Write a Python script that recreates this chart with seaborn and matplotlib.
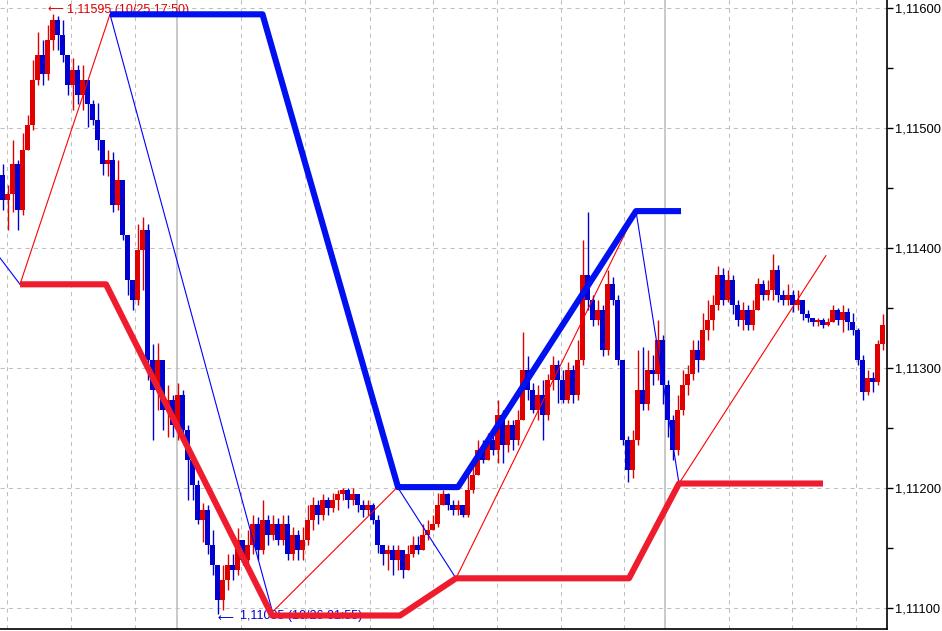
import numpy as np
import pandas as pd
import matplotlib
matplotlib.use("Agg")
import matplotlib.pyplot as plt
import seaborn as sns
from matplotlib.ticker import FixedLocator, NullFormatter

# ---------------- data (prices in points of 1e-5) ----------------
first_open = 111461
close_pts = [
    111440, 111445, 111470, 111432, 111482, 111503, 111540, 111561, 111545, 111574,
    111590, 111578, 111561, 111536, 111549, 111528, 111540, 111520, 111507, 111490,
    111470, 111474, 111436, 111457, 111411, 111374, 111357, 111399, 111415, 111307,
    111282, 111307, 111265, 111274, 111253, 111278, 111249, 111224, 111203, 111174,
    111182, 111153, 111136, 111107, 111124, 111136, 111132, 111157, 111140, 111153,
    111170, 111149, 111174, 111161, 111170, 111157, 111170, 111145, 111161, 111149,
    111157, 111174, 111186, 111178, 111190, 111184, 111190, 111195, 111199, 111190,
    111195, 111186, 111182, 111186, 111174, 111153, 111145, 111149, 111140, 111149,
    111132, 111145, 111153, 111149, 111161, 111165, 111170, 111186, 111195, 111186,
    111182, 111186, 111178, 111199, 111211, 111232, 111224, 111240, 111232, 111261,
    111236, 111253, 111240, 111257, 111299, 111282, 111265, 111278, 111261, 111290,
    111303, 111290, 111274, 111299, 111278, 111307, 111378, 111357, 111340, 111349,
    111315, 111370, 111357, 111307, 111240, 111215, 111240, 111282, 111270, 111299,
    111295, 111324, 111286, 111257, 111232, 111265, 111286, 111295, 111315, 111307,
    111332, 111340, 111353, 111378, 111357, 111374, 111353, 111340, 111349, 111336,
    111349, 111370, 111361, 111365, 111382, 111361, 111357, 111361, 111353, 111357,
    111345, 111342, 111339, 111340, 111336, 111339, 111349, 111340, 111347, 111339,
    111332, 111307, 111280, 111292, 111289, 111320, 111336,
]
high_pts = [
    111470, 111453, 111490, 111474, 111496, 111511, 111557, 111580, 111574, 111586,
    111595, 111594, 111590, 111561, 111559, 111553, 111553, 111536, 111524, 111521,
    111490, 111482, 111480, 111474, 111440, 111403, 111374, 111420, 111426, 111420,
    111320, 111321, 111307, 111286, 111278, 111288, 111282, 111253, 111228, 111207,
    111188, 111186, 111165, 111136, 111136, 111145, 111145, 111167, 111157, 111165,
    111178, 111176, 111190, 111178, 111178, 111175, 111178, 111178, 111168, 111165,
    111168, 111186, 111193, 111190, 111195, 111193, 111196, 111199, 111200, 111200,
    111200, 111195, 111190, 111190, 111188, 111178, 111153, 111153, 111153, 111153,
    111149, 111153, 111160, 111160, 111170, 111174, 111178, 111196, 111199, 111196,
    111190, 111190, 111186, 111211, 111220, 111240, 111240, 111246, 111246, 111274,
    111265, 111257, 111257, 111265, 111330, 111310, 111288, 111286, 111290, 111295,
    111310, 111307, 111299, 111305, 111303, 111324, 111407, 111430, 111361, 111357,
    111353, 111382, 111376, 111361, 111307, 111244, 111249, 111315, 111318, 111315,
    111311, 111340, 111328, 111290, 111261, 111278, 111299, 111303, 111324, 111324,
    111346, 111357, 111361, 111385, 111384, 111382, 111378, 111357, 111355, 111353,
    111357, 111375, 111374, 111374, 111395, 111386, 111365, 111370, 111365, 111365,
    111353, 111349, 111342, 111342, 111342, 111342, 111353, 111350, 111353, 111350,
    111346, 111334, 111311, 111299, 111297, 111324, 111345,
]
low_pts = [
    111432, 111415, 111430, 111415, 111428, 111482, 111499, 111536, 111536, 111540,
    111565, 111565, 111555, 111528, 111515, 111520, 111515, 111501, 111503, 111482,
    111461, 111460, 111430, 111432, 111407, 111361, 111349, 111353, 111365, 111290,
    111240, 111265, 111249, 111243, 111243, 111240, 111240, 111190, 111190, 111170,
    111155, 111145, 111128, 111095, 111099, 111115, 111124, 111128, 111136, 111136,
    111145, 111140, 111145, 111153, 111157, 111153, 111153, 111140, 111140, 111140,
    111140, 111153, 111165, 111170, 111174, 111178, 111180, 111182, 111190, 111184,
    111186, 111180, 111176, 111178, 111170, 111146, 111136, 111132, 111128, 111132,
    111125, 111136, 111143, 111145, 111153, 111157, 111165, 111168, 111186, 111182,
    111178, 111178, 111176, 111176, 111196, 111215, 111221, 111228, 111228, 111221,
    111221, 111230, 111232, 111236, 111274, 111274, 111263, 111257, 111240, 111257,
    111282, 111271, 111271, 111271, 111271, 111274, 111303, 111349, 111335, 111336,
    111310, 111311, 111353, 111303, 111236, 111205, 111209, 111236, 111265, 111265,
    111286, 111290, 111270, 111243, 111224, 111228, 111261, 111278, 111290, 111297,
    111307, 111324, 111332, 111349, 111353, 111355, 111345, 111335, 111332, 111332,
    111332, 111349, 111357, 111357, 111357, 111355, 111353, 111353, 111347, 111349,
    111340, 111339, 111335, 111335, 111334, 111335, 111339, 111336, 111330, 111332,
    111328, 111303, 111274, 111278, 111280, 111286, 111315,
]

# zigzag swing points (bar index, price)
zigzag_idx = [-0.5, 3.5, 21.5, 54.0, 79.0, 90.7, 126.7, 135.3, 164.7]
zigzag_price = [1.11392, 1.11370, 1.11595, 1.11097, 1.11201, 1.11125, 1.11431, 1.11204, 1.11394]

# thick channel lines
upper_idx = [21.5, 52.0, 79.1, 91.1, 126.7, 135.7]
upper_price = [1.11595, 1.11595, 1.11201, 1.11201, 1.11431, 1.11431]
lower_idx = [3.5, 20.7, 53.9, 79.5, 90.7, 125.3, 135.3, 164.1]
lower_price = [1.11370, 1.11370, 1.11094, 1.11094, 1.11125, 1.11125, 1.11204, 1.11204]

# axis ticks
ytick_vals = [1.111, 1.112, 1.113, 1.114, 1.115, 1.116]
ytick_labels = ["1,11100", "1,11200", "1,11300", "1,11400", "1,11500", "1,11600"]
yminor_vals = [1.1115, 1.1125, 1.1135, 1.1145, 1.1155]
vgrid_idx = [0.9, 13.7, 26.5, 47.7, 60.5, 73.5, 86.1, 98.9, 111.7, 124.3, 145.3, 157.9, 170.7]
vsolid_idx = [34.9, 132.5]

high_label = "1,11595 (10/25 17:50)"
low_label = "1,11095 (10/26 01:55)"

# ---------------- build ----------------
close = np.array(close_pts) / 1e5
opens = np.concatenate([[first_open], close_pts[:-1]]) / 1e5
high = np.maximum.reduce([np.array(high_pts) / 1e5, opens, close])
low = np.minimum.reduce([np.array(low_pts) / 1e5, opens, close])
idx = np.arange(len(close))
df = pd.DataFrame({"idx": idx, "open": opens, "close": close, "high": high, "low": low})
df["up"] = df["close"] > df["open"]

RED_BAR = "#e00000"
BLUE_BAR = "#0000d0"
colors = np.where(df["up"], RED_BAR, BLUE_BAR)

sns.set_style("white")
plt.rcParams["font.family"] = ["Liberation Sans", "DejaVu Sans"]

fig = plt.figure(figsize=(9.42, 6.31), dpi=100)
ax = fig.add_axes([0.0, 2 / 631, 887 / 942, 629 / 631])
ax.set_facecolor("white")

ax.set_xlim(-0.5, 176.9)
ax.set_ylim(1.1108275, 1.1160692)

# grid
for y in ytick_vals:
    ax.axhline(y, color="#c0c0c0", lw=0.75, ls=(0, (4, 4)), zorder=0)
for x in vgrid_idx:
    ax.axvline(x, color="#c0c0c0", lw=0.75, ls=(0, (4, 4)), zorder=0)
for x in vsolid_idx:
    ax.axvline(x, color="#c0c0c0", lw=1.2, zorder=0)

# annotations (drawn beneath the lines)
ax.text(8.9, 1.11599, "\u27f5", color="#e00000", fontsize=8, va="center", ha="left", zorder=1,
        family=["DejaVu Sans"])
ax.text(12.9, 1.11599, high_label, color="#e00000", fontsize=9, va="center", ha="left", zorder=1)
ax.text(43.1, 1.11092, "\u27f5", color="#0000d0", fontsize=8, va="center", ha="left", zorder=1,
        family=["DejaVu Sans"])
ax.text(47.5, 1.11094, low_label, color="#0000d0", fontsize=9, va="center", ha="left", zorder=1)

# candles
ax.vlines(df["idx"], df["low"], df["high"], colors=colors, lw=1.0, zorder=2)
body_h = np.maximum((df["close"] - df["open"]).abs().to_numpy(), 0.000009)
body_b = np.minimum(df["open"], df["close"]).to_numpy()
ax.bar(df["idx"], body_h, bottom=body_b, width=0.86, color=colors, linewidth=0, zorder=3)

# zigzag thin lines
for k in range(len(zigzag_idx) - 1):
    seg = pd.DataFrame({"t": zigzag_idx[k:k + 2], "p": zigzag_price[k:k + 2]})
    c = "#0000ff" if zigzag_price[k + 1] < zigzag_price[k] else "#ff0000"
    sns.lineplot(data=seg, x="t", y="p", color=c, lw=0.8, sort=False, estimator=None, ax=ax, zorder=4)

# thick channel lines
up_df = pd.DataFrame({"t": upper_idx, "p": upper_price})
lo_df = pd.DataFrame({"t": lower_idx, "p": lower_price})
sns.lineplot(data=up_df, x="t", y="p", color="#0010f0", lw=4.4, sort=False, estimator=None, ax=ax,
             zorder=5, solid_capstyle="butt")
sns.lineplot(data=lo_df, x="t", y="p", color="#ee1c2c", lw=4.4, sort=False, estimator=None, ax=ax,
             zorder=5, solid_capstyle="butt")

# axes styling
ax.set_xlabel("")
ax.set_ylabel("")
ax.set_xticks([])
ax.yaxis.tick_right()
ax.yaxis.set_major_locator(FixedLocator(ytick_vals))
ax.set_yticklabels(ytick_labels)
ax.yaxis.set_minor_locator(FixedLocator(yminor_vals))
ax.yaxis.set_minor_formatter(NullFormatter())
ax.tick_params(axis="y", which="both", direction="out", length=4, width=1, color="black",
               right=True, left=False, labelright=True, labelleft=False, pad=1.5,
               labelsize=9.3, labelcolor="black")
for s in ["left", "top"]:
    ax.spines[s].set_visible(False)
for s in ["right", "bottom"]:
    ax.spines[s].set_visible(True)
    ax.spines[s].set_color("black")
    ax.spines[s].set_linewidth(1.2)

fig.savefig("out.png", dpi=100, facecolor="white")
